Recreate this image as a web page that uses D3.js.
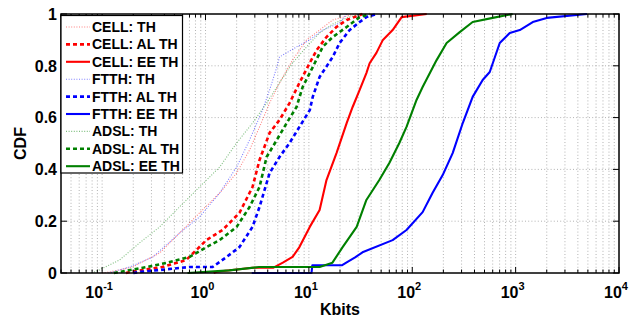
<!DOCTYPE html>
<html>
<head>
<meta charset="utf-8">
<script src="https://cdn.jsdelivr.net/npm/d3@7"></script>
<style>
  html, body { margin: 0; padding: 0; background: #fff; }
  svg { display: block; font-family: "Liberation Sans", Arial, Helvetica, sans-serif; font-weight: bold; }
</style>
</head>
<body>
<svg id="chart" width="630" height="320"></svg>
<script>
// ---- data: [Kbits, CDF] points ----
const cellTH = [[0.1,0],[0.118,0.004],[0.196,0.023],[0.36,0.077],[0.56,0.154],[0.875,0.232],[1.37,0.309],[2.0,0.386],[2.67,0.475],[3.33,0.564],[4.17,0.656],[5.2,0.734],[6.95,0.822],[9.5,0.9],[12.7,0.938],[17,0.977],[23.2,0.992],[29,1.0]];
const cellAL = [[0.17,0],[0.184,0.004],[0.38,0.023],[0.65,0.05],[1.02,0.127],[1.46,0.166],[2.13,0.232],[2.85,0.332],[3.33,0.436],[4.17,0.541],[5.2,0.591],[6.5,0.656],[8.1,0.734],[10.2,0.811],[11.9,0.861],[14.8,0.911],[18.5,0.95],[23.2,0.977],[33,1.0]];
const cellEE = [[1.2,0],[1.28,0.005],[2.85,0.02],[4.5,0.02],[5.6,0.04],[6.95,0.062],[8.1,0.1],[10.2,0.178],[12.7,0.243],[14.8,0.359],[18.5,0.463],[23.2,0.579],[26.5,0.641],[31,0.707],[36,0.772],[38.7,0.81],[45,0.85],[52,0.9],[64.6,0.938],[79,0.988],[138,1.0]];
const ftthTH = [[0.115,0],[0.126,0.004],[0.184,0.023],[0.31,0.062],[0.56,0.154],[0.875,0.216],[1.37,0.309],[2.0,0.409],[2.67,0.514],[3.56,0.629],[4.17,0.707],[4.9,0.795],[5.2,0.834],[7.6,0.873],[10.2,0.9],[13.6,0.938],[19.8,0.965],[23.2,1.0]];
const ftthAL = [[0.2,0],[0.23,0.004],[0.70,0.023],[1.17,0.023],[1.6,0.062],[2.13,0.1],[2.85,0.178],[3.33,0.255],[4.17,0.386],[5.2,0.448],[6.5,0.502],[8.1,0.564],[10.2,0.629],[10.9,0.68],[12.7,0.757],[17,0.834],[19.8,0.888],[24.8,0.938],[31,0.969],[36,0.988],[45,1.0]];
const ftthEE = [[2.8,0],[10.6,0],[10.8,0.03],[21,0.03],[23,0.04],[28,0.06],[33,0.08],[64.6,0.127],[88,0.166],[126,0.235],[157,0.309],[197,0.378],[246,0.463],[308,0.579],[384,0.68],[480,0.745],[562,0.776],[702,0.888],[877,0.927],[1097,0.938],[1465,0.969],[2000,0.985],[4900,1.0]];
const adslTH = [[0.079,0],[0.094,0.012],[0.147,0.05],[0.23,0.116],[0.36,0.178],[0.56,0.255],[0.875,0.332],[1.37,0.409],[2.0,0.502],[2.85,0.579],[3.9,0.656],[5.2,0.734],[6.95,0.811],[9.5,0.873],[12.7,0.927],[17,0.961],[23.2,0.985],[31,1.0]];
const adslAL = [[0.13,0],[0.147,0.004],[0.27,0.023],[0.42,0.039],[0.70,0.062],[1.02,0.1],[1.37,0.127],[2.0,0.178],[2.67,0.255],[3.33,0.332],[3.9,0.448],[4.9,0.514],[6.1,0.579],[7.6,0.641],[8.7,0.718],[10.9,0.795],[13.6,0.873],[17,0.911],[23.2,0.95],[31,0.988],[38.7,1.0]];
const adslEE = [[0.67,0],[1.7,0.01],[3.3,0.023],[12.7,0.023],[16.9,0.04],[21.2,0.1],[29,0.178],[36,0.282],[48,0.359],[60,0.425],[75,0.502],[88,0.564],[110,0.668],[126,0.718],[172,0.822],[215,0.888],[288,0.93],[384,0.969],[600,0.985],[935,1.0]];

const seriesNames = ["CELL: TH","CELL: AL TH","CELL: EE TH","FTTH: TH","FTTH: AL TH","FTTH: EE TH","ADSL: TH","ADSL: AL TH","ADSL: EE TH"];
const seriesData  = [cellTH, cellAL, cellEE, ftthTH, ftthAL, ftthEE, adslTH, adslAL, adslEE];
const seriesColor = ["#ff0000","#ff0000","#ff0000","#0000ff","#0000ff","#0000ff","#008000","#008000","#008000"];
const seriesKind  = ["th","al","ee","th","al","ee","th","al","ee"];

const yTicks = [0, 0.2, 0.4, 0.6, 0.8, 1];
const yTickLabels = ["0","0.2","0.4","0.6","0.8","1"];
const xDecades = [-1, 0, 1, 2, 3, 4];
const xLabel = "Kbits";
const yLabel = "CDF";

// ---- layout ----
const L = 61, R = 619, T = 14, B = 273;
const svg = d3.select("#chart");
const x = d3.scaleLog().domain([0.04, 1e4]).range([L, R]);
const y = d3.scaleLinear().domain([0, 1]).range([B, T]);

const style = {
  th: {w: 1.1, dash: "1,1.6", op: 0.5},
  al: {w: 2.6, dash: "4,3", op: 1},
  ee: {w: 2.1, dash: null, op: 1}
};

// minor/major x positions
const xAll = [];
for (let e = -2; e <= 4; e++) for (let k = 1; k <= 9; k++) {
  const v = k * Math.pow(10, e);
  if (v >= 0.04 - 1e-9 && v <= 1e4 + 1e-6) xAll.push({v, major: k === 1});
}

// grid
const grid = svg.append("g");
xAll.forEach(t => {
  if (x(t.v) <= L + 0.5 || x(t.v) >= R - 0.5) return;
  grid.append("line").attr("x1", x(t.v)).attr("x2", x(t.v)).attr("y1", T).attr("y2", B)
    .attr("stroke", "#a0a0a0").attr("stroke-width", 0.8).attr("stroke-dasharray", "1,2.2");
});
yTicks.slice(1, -1).forEach(v => {
  grid.append("line").attr("x1", L).attr("x2", R).attr("y1", y(v)).attr("y2", y(v))
    .attr("stroke", "#a0a0a0").attr("stroke-width", 0.8).attr("stroke-dasharray", "1,2.2");
});

// curves
const line = d3.line().x(d => x(d[0])).y(d => y(d[1])).curve(d3.curveLinear);
const curves = svg.append("g");
seriesData.forEach((data, i) => {
  const s = style[seriesKind[i]];
  const p = curves.append("path").datum(data).attr("d", line)
    .attr("fill", "none").attr("stroke", seriesColor[i])
    .attr("stroke-width", s.w).attr("stroke-opacity", s.op)
    .attr("stroke-linejoin", "round");
  if (s.dash) p.attr("stroke-dasharray", s.dash);
});

// ticks (inside, all four sides)
const ticks = svg.append("g").attr("stroke", "#000").attr("stroke-width", 1);
xAll.forEach(t => {
  const len = t.major ? 6 : 3.5;
  const px = x(t.v);
  ticks.append("line").attr("x1", px).attr("x2", px).attr("y1", B).attr("y2", B - len);
  ticks.append("line").attr("x1", px).attr("x2", px).attr("y1", T).attr("y2", T + len);
});
yTicks.forEach(v => {
  ticks.append("line").attr("x1", L).attr("x2", L + 6).attr("y1", y(v)).attr("y2", y(v));
  ticks.append("line").attr("x1", R).attr("x2", R - 6).attr("y1", y(v)).attr("y2", y(v));
});

// frame
svg.append("rect").attr("x", L).attr("y", T).attr("width", R - L).attr("height", B - T)
  .attr("fill", "none").attr("stroke", "#000").attr("stroke-width", 1.5);

// y tick labels
svg.append("g").selectAll("text").data(yTicks).join("text")
  .attr("x", L - 4).attr("y", d => y(d)).attr("dy", "0.36em")
  .attr("text-anchor", "end").attr("font-size", 16).text((d, i) => yTickLabels[i]);

// x tick labels 10^e
const xl = svg.append("g");
xDecades.forEach(e => {
  const t = xl.append("text").attr("x", x(Math.pow(10, e)) - 3).attr("y", 298)
    .attr("text-anchor", "middle").attr("font-size", 16);
  t.append("tspan").text("10");
  t.append("tspan").attr("dy", -8).attr("font-size", 11).text(String(e));
});

// axis titles
svg.append("text").attr("x", (L + R) / 2).attr("y", 315).attr("text-anchor", "middle")
  .attr("font-size", 16).text(xLabel);
svg.append("text").attr("transform", `translate(26,${(T + B) / 2}) rotate(-90)`)
  .attr("text-anchor", "middle").attr("font-size", 16).text(yLabel);

// legend
const lg = svg.append("g");
lg.append("rect").attr("x", L).attr("y", 15.5).attr("width", 121.5).attr("height", 157.5)
  .attr("fill", "#fff").attr("stroke", "#000").attr("stroke-width", 1.2);
seriesNames.forEach((name, i) => {
  const cy = 27 + i * 17.4;
  const s = style[seriesKind[i]];
  const l = lg.append("line").attr("x1", 66).attr("x2", 90).attr("y1", cy).attr("y2", cy)
    .attr("stroke", seriesColor[i]).attr("stroke-width", s.w).attr("stroke-opacity", s.op);
  if (s.dash) l.attr("stroke-dasharray", s.dash);
  lg.append("text").attr("x", 92).attr("y", cy).attr("dy", "0.36em")
    .attr("font-size", 14).text(name);
});
</script>
</body>
</html>
